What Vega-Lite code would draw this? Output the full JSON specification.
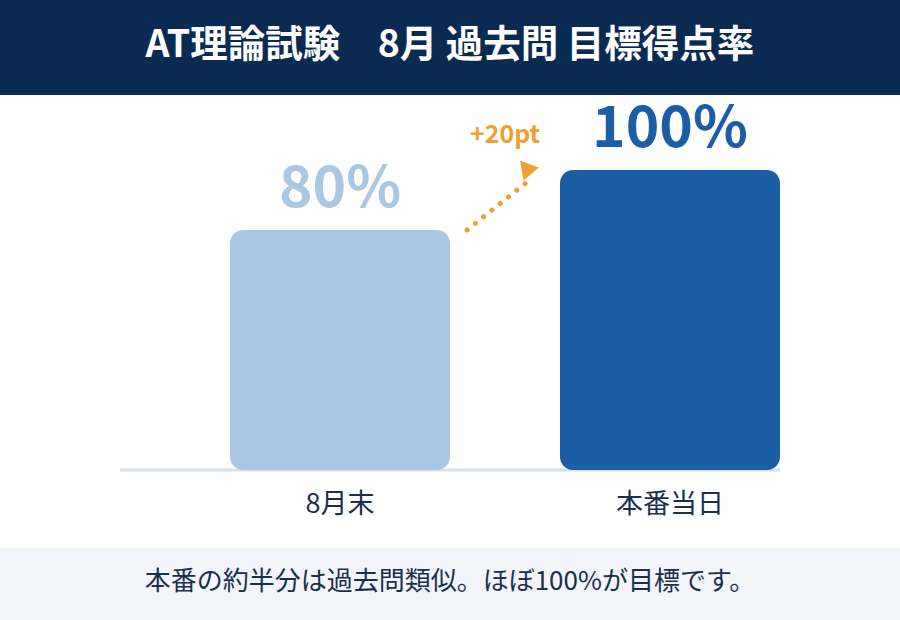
{
  "$schema": "https://vega.github.io/schema/vega-lite/v6.json",
  "width": 900,
  "height": 620,
  "padding": 0,
  "autosize": {"type": "none"},
  "background": "white",
  "config": {
    "view": {"stroke": null},
    "font": "Noto Sans CJK JP"
  },
  "datasets": {
    "bars": [
      {"label": "8月末", "pos": 1, "value": 80, "text": "80%"},
      {"label": "本番当日", "pos": 2, "value": 100, "text": "100%"}
    ],
    "arrow": [
      {"step": 0, "pos": 1.385, "value": 80},
      {"step": 1, "pos": 1.567, "value": 96}
    ]
  },
  "encoding": {
    "x": {
      "field": "pos",
      "type": "quantitative",
      "scale": {"domain": [-0.0303, 2.697], "nice": false, "zero": false, "padding": 0},
      "axis": null
    },
    "y": {
      "field": "value",
      "type": "quantitative",
      "scale": {"domain": [-50, 156.667], "nice": false, "zero": false, "padding": 0},
      "axis": null
    }
  },
  "layer": [
    {
      "data": {"values": [{"top": 157, "bottom": 125}]},
      "mark": {"type": "rect", "color": "#0a2a52"},
      "encoding": {
        "x": null,
        "y": {"field": "top", "type": "quantitative"},
        "y2": {"field": "bottom"}
      }
    },
    {
      "data": {"values": [{"top": -26, "bottom": -51}]},
      "mark": {"type": "rect", "color": "#f2f5f9"},
      "encoding": {
        "x": null,
        "y": {"field": "top", "type": "quantitative"},
        "y2": {"field": "bottom"}
      }
    },
    {
      "data": {"values": [{"pos": 1.3333, "value": 141.3, "text": "AT理論試験　8月 過去問 目標得点率"}]},
      "mark": {"type": "text", "color": "white", "fontSize": 37.5, "fontWeight": "bold", "align": "center", "baseline": "middle"},
      "encoding": {"text": {"field": "text"}}
    },
    {
      "data": {"values": [{"pos": 1.3333, "value": -37.3, "text": "本番の約半分は過去問類似。ほぼ100%が目標です。"}]},
      "mark": {"type": "text", "color": "#1b2f4d", "fontSize": 26, "align": "center", "baseline": "middle"},
      "encoding": {"text": {"field": "text"}}
    },
    {
      "data": {"values": [{"pos": 0.3333, "end": 2.3333, "value": 0}]},
      "mark": {"type": "rule", "color": "#d6dfeb", "strokeWidth": 3},
      "encoding": {
        "x2": {"field": "end"}
      }
    },
    {
      "data": {"name": "bars"},
      "mark": {"type": "bar", "orient": "vertical", "width": 220, "cornerRadius": 13},
      "encoding": {
        "y2": {"datum": 0},
        "color": {
          "field": "label",
          "type": "nominal",
          "scale": {"domain": ["8月末", "本番当日"], "range": ["#aac7e3", "#1b5ea6"]},
          "legend": null
        }
      }
    },
    {
      "data": {"name": "bars"},
      "mark": {"type": "text", "fontSize": 57, "fontWeight": "bold", "align": "center", "baseline": "alphabetic", "dy": -23},
      "encoding": {
        "text": {"field": "text"},
        "color": {"field": "label", "type": "nominal", "legend": null}
      }
    },
    {
      "data": {"name": "bars"},
      "mark": {"type": "text", "fontSize": 27, "color": "#1b2f4d", "align": "center", "baseline": "middle", "dy": 35},
      "encoding": {
        "y": {"datum": 0},
        "text": {"field": "label"}
      }
    },
    {
      "data": {"name": "arrow"},
      "mark": {"type": "line", "color": "#f0a02c", "strokeWidth": 5, "strokeCap": "round", "strokeDash": [0.1, 10.5]},
      "encoding": {"order": {"field": "step"}}
    },
    {
      "data": {"values": [{"pos": 1.577, "value": 100.3}]},
      "mark": {"type": "point", "shape": "triangle-right", "filled": true, "opacity": 1, "color": "#f0a02c", "size": 400, "angle": -10}
    },
    {
      "data": {"values": [{"pos": 1.5, "value": 111.7, "text": "+20pt"}]},
      "mark": {"type": "text", "color": "#f0a02c", "fontSize": 25, "fontWeight": "bold", "align": "center", "baseline": "middle"},
      "encoding": {"text": {"field": "text"}}
    }
  ]
}
